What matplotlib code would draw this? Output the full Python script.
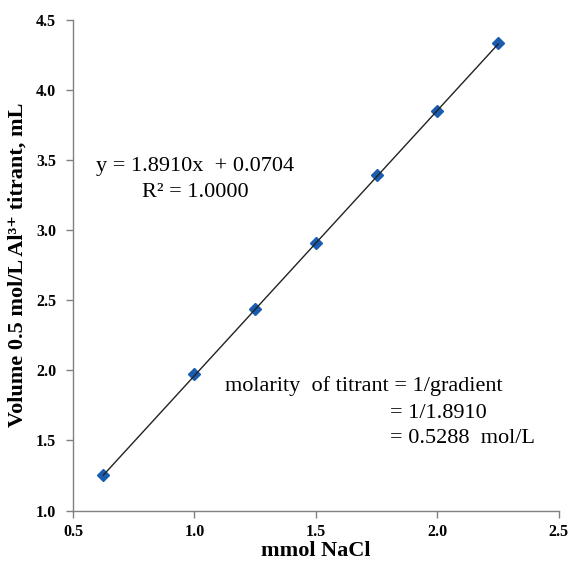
import matplotlib
matplotlib.use("Agg")
import matplotlib.pyplot as plt
import numpy as np

plt.rcParams['font.family'] = ['Liberation Serif', 'DejaVu Serif']

mmol_nacl = [0.625, 1.0, 1.25, 1.5, 1.75, 2.0, 2.25]
volume_ml = [1.25, 1.97, 2.44, 2.91, 3.39, 3.85, 4.33]
slope = 1.8910
intercept = 0.0704

x_ticks = [0.5, 1.0, 1.5, 2.0, 2.5]
y_ticks = [1.0, 1.5, 2.0, 2.5, 3.0, 3.5, 4.0, 4.5]

fig = plt.figure(figsize=(5.71, 5.66), dpi=100)
ax = fig.add_axes([0.1278, 0.098, 0.851, 0.8675])

ax.plot(mmol_nacl, volume_ml, linestyle='none', marker='D', markersize=6.5,
        color='#1a5cb0', zorder=2)
xf = np.array([mmol_nacl[0], mmol_nacl[-1]])
ax.plot(xf, slope * xf + intercept, color='#222222', linewidth=1.0, zorder=3)

ax.set_xlim(0.5, 2.5)
ax.set_ylim(1.0, 4.5)
ax.set_xticks(x_ticks)
ax.set_yticks(y_ticks)
ax.set_xticklabels([f"{v:.1f}" for v in x_ticks], fontweight='bold')
ax.set_yticklabels([f"{v:.1f}" for v in y_ticks], fontweight='bold')
ax.tick_params(direction='out', length=5, width=1, colors='#808080',
               labelcolor='black', labelsize=11.5)
ax.tick_params(axis='x', pad=5)
ax.tick_params(axis='y', pad=7)
for s in ['top', 'right']:
    ax.spines[s].set_visible(False)
for s in ['left', 'bottom']:
    ax.spines[s].set_color('#808080')
    ax.spines[s].set_linewidth(1)

ax.set_xlabel('mmol NaCl', fontsize=16, fontweight='bold')
ax.xaxis.set_label_coords(0.5, -0.063)
ax.set_ylabel('Volume 0.5 mol/L Al³⁺ titrant, mL', fontsize=16,
              fontweight='bold')
ax.yaxis.set_label_coords(-0.093, 0.5)

ax.text(1.002, 3.455, 'y = 1.8910x  + 0.0704', fontsize=16, ha='center', va='center')
ax.text(1.002, 3.265, 'R² = 1.0000', fontsize=16, ha='center', va='center')

ax.text(1.125, 1.885, 'molarity  of titrant = 1/gradient', fontsize=16, ha='left', va='center')
ax.text(1.805, 1.69, '= 1/1.8910', fontsize=16, ha='left', va='center')
ax.text(1.805, 1.51, '= 0.5288  mol/L', fontsize=16, ha='left', va='center')

fig.savefig('out.png', dpi=100)
